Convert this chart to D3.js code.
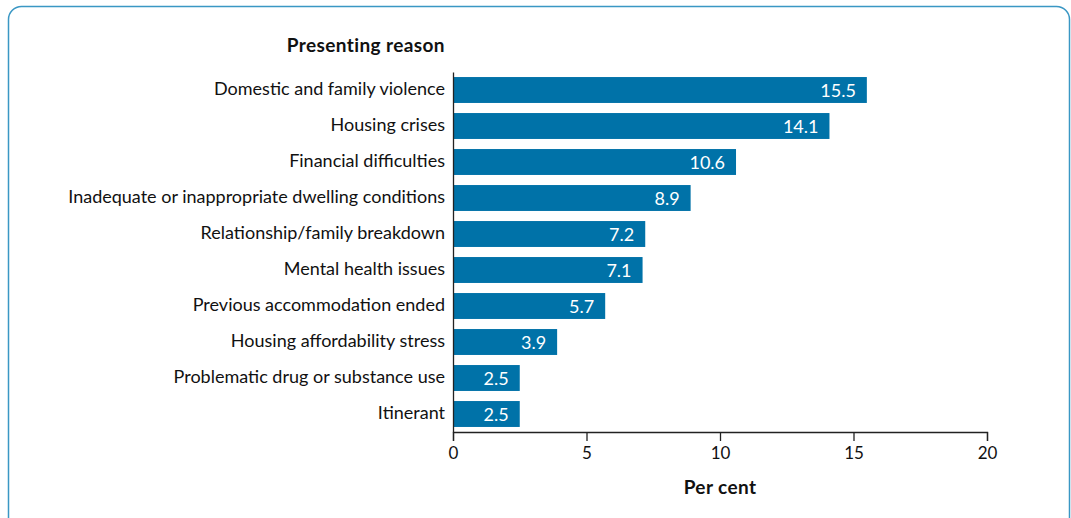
<!DOCTYPE html>
<html>
<head>
<meta charset="utf-8">
<script src="https://cdn.jsdelivr.net/npm/d3@7"></script>
<style>
  body { margin: 0; background: #fff; }
  svg { display: block; font-family: Lato, "Open Sans", sans-serif; }
</style>
</head>
<body>
<div id="chart"></div>
<script>
// presenting reasons, top to bottom
const reasons = [
  "Domestic and family violence",
  "Housing crises",
  "Financial difficulties",
  "Inadequate or inappropriate dwelling conditions",
  "Relationship/family breakdown",
  "Mental health issues",
  "Previous accommodation ended",
  "Housing affordability stress",
  "Problematic drug or substance use",
  "Itinerant"
];
const perCent = [15.5, 14.1, 10.6, 8.9, 7.2, 7.1, 5.7, 3.9, 2.5, 2.5];
const xTicks = [0, 5, 10, 15, 20];

const width = 1071, height = 518;
const margin = {left: 453, right: 84, top: 72, bottom: 86};
const barColor = "#0072a8";

const svg = d3.select("#chart").append("svg")
  .attr("width", width)
  .attr("height", height);

// rounded frame
svg.append("rect")
  .attr("x", 8.5).attr("y", 6.5)
  .attr("width", 1061).attr("height", 530)
  .attr("rx", 13)
  .attr("fill", "none")
  .attr("stroke", "#3a97c4")
  .attr("stroke-width", 1.5);

const data = reasons.map((r, i) => ({reason: r, value: perCent[i]}));

const xScale = d3.scaleLinear()
  .domain([0, 20])
  .range([margin.left, width - margin.right]);

const yScale = d3.scaleBand()
  .domain(reasons)
  .range([margin.top, height - margin.bottom])
  .paddingInner(0.28)
  .paddingOuter(0.14);

// bars
svg.selectAll(".bar")
  .data(data)
  .enter()
  .append("rect")
    .attr("class", "bar")
    .attr("x", xScale(0))
    .attr("y", d => yScale(d.reason))
    .attr("width", d => xScale(d.value) - xScale(0))
    .attr("height", yScale.bandwidth())
    .attr("fill", barColor);

// value labels inside bars
svg.selectAll(".val")
  .data(data)
  .enter()
  .append("text")
    .attr("class", "val")
    .attr("x", d => xScale(d.value) - 11)
    .attr("y", d => yScale(d.reason) + yScale.bandwidth() / 2)
    .attr("dy", "0.38em")
    .attr("text-anchor", "end")
    .attr("fill", "#fff")
    .attr("font-size", "18px")
    .text(d => d.value.toFixed(1));

// x axis
const xAxis = svg.append("g")
  .attr("transform", `translate(0,${height - margin.bottom})`)
  .call(d3.axisBottom(xScale).tickValues(xTicks).tickSize(9).tickPadding(6));
xAxis.select(".domain").attr("stroke", "#222").attr("stroke-width", 1.3);
xAxis.selectAll(".tick line").attr("stroke", "#222").attr("stroke-width", 1.3);
xAxis.selectAll("text").attr("font-size", "17px").attr("fill", "#111")
  .attr("font-family", "Lato, sans-serif");

// y axis
const yAxis = svg.append("g")
  .attr("transform", `translate(${margin.left},0)`)
  .call(d3.axisLeft(yScale).tickSize(0).tickPadding(8));
yAxis.select(".domain").attr("stroke", "#222").attr("stroke-width", 1.3);
yAxis.selectAll("text").attr("font-size", "18px").attr("fill", "#111")
  .attr("dy", "0.28em")
  .attr("font-family", "Lato, sans-serif");

// titles
svg.append("text")
  .attr("x", 445).attr("y", 52)
  .attr("text-anchor", "end")
  .attr("font-weight", "bold")
  .attr("font-size", "19px")
  .attr("letter-spacing", "0.4px")
  .attr("fill", "#111")
  .text("Presenting reason");

svg.append("text")
  .attr("x", xScale(10)).attr("y", 494)
  .attr("text-anchor", "middle")
  .attr("font-weight", "bold")
  .attr("font-size", "19px")
  .attr("letter-spacing", "0.4px")
  .attr("fill", "#111")
  .text("Per cent");
</script>
</body>
</html>
